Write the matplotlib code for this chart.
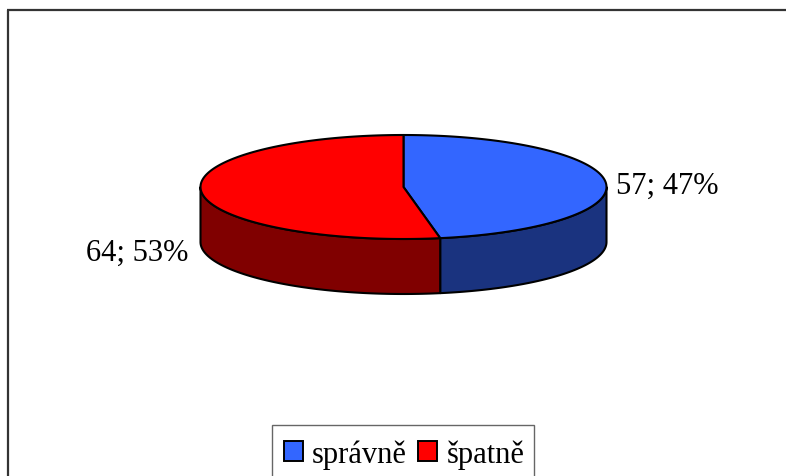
import numpy as np
import matplotlib
matplotlib.use('Agg')
import matplotlib.pyplot as plt
from matplotlib.patches import Polygon, Rectangle

# data
labels = ['správně', 'špatně']
counts = [57, 64]
top_colors = ['#3366FF', '#FF0000']
side_colors = ['#1A337F', '#800000']

plt.rcParams['font.family'] = ['Liberation Serif', 'DejaVu Serif']

W, H = 786, 477
fig = plt.figure(figsize=(W / 100, H / 100), dpi=100)
ax = fig.add_axes([0, 0, 1, 1])
ax.set_xlim(0, W)
ax.set_ylim(H, 0)
ax.axis('off')

# outer chart frame (only left and top visible)
ax.plot([8, 8], [11, H], color='#333333', lw=1.6, solid_capstyle='butt')
ax.plot([7, W], [11, 11], color='#333333', lw=1.6, solid_capstyle='butt')

# pie geometry (pixels)
cx, cy = 403.5, 188
ra, rb = 203, 52
depth = 55


def pt(theta_deg):
    t = np.radians(theta_deg)
    return cx + ra * np.sin(t), cy - rb * np.cos(t)


total = sum(counts)
fracs = [c / total for c in counts]
starts = np.concatenate([[0], np.cumsum(fracs)[:-1]]) * 360
ends = np.cumsum(fracs) * 360

# side walls (front half: 90..270 degrees clockwise from top)
for s, e, col in zip(starts, ends, side_colors):
    lo, hi = max(s, 90), min(e, 270)
    if hi <= lo:
        continue
    th = np.linspace(lo, hi, 100)
    xs, ys = pt(th)
    poly = np.column_stack([np.concatenate([xs, xs[::-1]]),
                            np.concatenate([ys, ys[::-1] + depth])])
    ax.add_patch(Polygon(poly, closed=True, facecolor=col, edgecolor='black',
                         lw=1.5, joinstyle='round'))

# top faces
for s, e, col in zip(starts, ends, top_colors):
    th = np.linspace(s, e, 200)
    xs, ys = pt(th)
    poly = np.column_stack([np.concatenate([[cx], xs]), np.concatenate([[cy], ys])])
    ax.add_patch(Polygon(poly, closed=True, facecolor=col, edgecolor='black',
                         lw=1.5, joinstyle='round'))

# data labels
fs = 22
txt = ['%d; %d%%' % (c, round(f * 100)) for c, f in zip(counts, fracs)]
ax.text(616, 194, txt[0], fontsize=fs, ha='left', va='baseline')
ax.text(188, 261, txt[1], fontsize=fs, ha='right', va='baseline')

# legend
ax.add_patch(Rectangle((272, 426), 262, 60, facecolor='white',
                       edgecolor='#666666', lw=1.0))
sq_x = [284, 418]
tx_x = [312, 447]
for lab, col, sx, tx in zip(labels, top_colors, sq_x, tx_x):
    ax.add_patch(Rectangle((sx, 442), 19, 20, facecolor=col,
                           edgecolor='black', lw=1.4))
    ax.text(tx, 463, lab, fontsize=fs, ha='left', va='baseline')

fig.savefig('out.png', dpi=100)
